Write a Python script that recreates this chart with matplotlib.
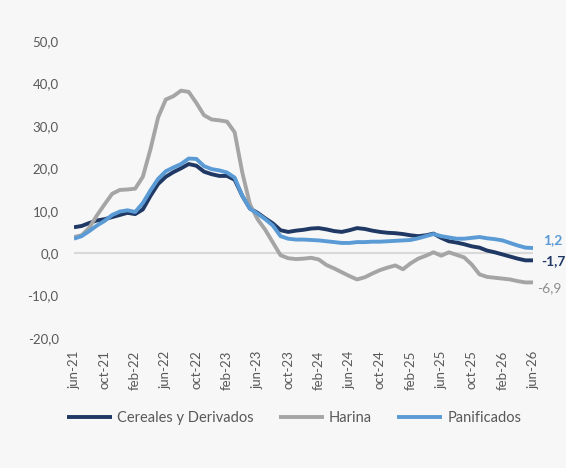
import matplotlib.pyplot as plt
import numpy as np

# meses jun-21 .. jun-26
meses = ["jun-21", "jul-21", "ago-21", "sep-21", "oct-21", "nov-21", "dic-21", "ene-22",
         "feb-22", "mar-22", "abr-22", "may-22", "jun-22", "jul-22", "ago-22", "sep-22",
         "oct-22", "nov-22", "dic-22", "ene-23", "feb-23", "mar-23", "abr-23", "may-23",
         "jun-23", "jul-23", "ago-23", "sep-23", "oct-23", "nov-23", "dic-23", "ene-24",
         "feb-24", "mar-24", "abr-24", "may-24", "jun-24", "jul-24", "ago-24", "sep-24",
         "oct-24", "nov-24", "dic-24", "ene-25", "feb-25", "mar-25", "abr-25", "may-25",
         "jun-25", "jul-25", "ago-25", "sep-25", "oct-25", "nov-25", "dic-25", "ene-26",
         "feb-26", "mar-26", "abr-26", "may-26", "jun-26"]

cereales = [6.1, 6.4, 7.1, 7.7, 8.0, 8.5, 9.0, 9.5, 9.2, 10.3,
            13.5, 16.3, 18.0, 19.1, 20.0, 21.0, 20.6, 19.2, 18.6, 18.2,
            18.2, 17.3, 13.5, 10.5, 9.5, 8.2, 7.0, 5.4, 5.0, 5.3,
            5.5, 5.8, 5.9, 5.6, 5.2, 5.0, 5.4, 5.9, 5.7, 5.3,
            5.0, 4.8, 4.7, 4.5, 4.2, 4.0, 4.2, 4.6, 3.6, 2.8,
            2.5, 2.1, 1.6, 1.3, 0.6, 0.2, -0.3, -0.8, -1.3, -1.7, -1.7]

harina = [3.8, 4.2, 6.0, 8.9, 11.5, 14.0, 14.9, 15.0, 15.2, 18.0,
          24.5, 32.0, 36.2, 37.0, 38.3, 38.0, 35.4, 32.5, 31.5, 31.3,
          31.0, 28.5, 19.0, 11.5, 8.0, 5.5, 2.5, -0.5, -1.2, -1.4,
          -1.3, -1.1, -1.5, -2.8, -3.6, -4.5, -5.4, -6.2, -5.7, -4.8,
          -4.0, -3.4, -2.9, -3.8, -2.4, -1.3, -0.6, 0.2, -0.6, 0.2,
          -0.4, -1.0, -2.7, -5.0, -5.6, -5.8, -6.0, -6.2, -6.6, -6.9, -6.9]

panificados = [3.4, 4.0, 5.2, 6.5, 7.6, 9.0, 9.8, 10.1, 9.7, 11.8,
               14.8, 17.5, 19.3, 20.2, 21.0, 22.3, 22.2, 20.5, 19.8, 19.5,
               19.0, 17.8, 13.5, 10.5, 9.3, 8.0, 6.5, 4.0, 3.4, 3.2,
               3.2, 3.1, 3.0, 2.8, 2.6, 2.4, 2.4, 2.6, 2.6, 2.7,
               2.7, 2.8, 2.9, 3.0, 3.1, 3.5, 4.0, 4.5, 4.0, 3.7,
               3.4, 3.4, 3.6, 3.8, 3.5, 3.3, 3.0, 2.4, 1.8, 1.3, 1.2]

series = [("Cereales y Derivados", cereales, "#1F3864"),
          ("Harina", harina, "#A5A5A5"),
          ("Panificados", panificados, "#5B9BD5")]

plt.rcParams['font.family'] = ['Lato', 'DejaVu Sans']
texto = "#595959"
fondo = "#F7F7F7"

fig = plt.figure(figsize=(5.66, 4.68), dpi=100, facecolor=fondo)
ax = fig.add_axes([0.1307, 0.2778, 0.811, 0.6346], facecolor=fondo)

x = np.arange(len(meses))
ax.axhline(0, color="#D9D9D9", lw=1.5, zorder=1)
for nombre, vals, color in series:
    ax.plot(x, vals, color=color, lw=2.8, label=nombre, zorder=3,
            solid_joinstyle="round", solid_capstyle="butt")

ax.set_xlim(0, len(meses) - 1)
ax.set_ylim(-20, 50)
ax.set_yticks(np.arange(-20, 51, 10))
ax.set_yticklabels([f"{v:.1f}".replace(".", ",") for v in np.arange(-20, 51, 10)])
ax.set_xticks(x[::4])
ax.set_xticklabels(meses[::4], rotation=90)
ax.tick_params(axis="both", length=0, colors=texto, labelsize=9.5)
ax.tick_params(axis="x", pad=9)
ax.tick_params(axis="y", pad=11)
for s in ax.spines.values():
    s.set_visible(False)

# etiquetas de fin de serie
ax.annotate("1,2", (x[-1], panificados[-1]), xytext=(7, 6), textcoords="offset points",
            color="#5B9BD5", fontsize=10, fontweight="bold", va="center")
ax.annotate("-1,7", (x[-1], cereales[-1]), xytext=(6, -0.5), textcoords="offset points",
            color="#1F3864", fontsize=10, fontweight="bold", va="center")
ax.annotate("-6,9", (x[-1], harina[-1]), xytext=(3, -4), textcoords="offset points",
            color="#8C8C8C", fontsize=10, va="center")

ax.legend(loc="center", bbox_to_anchor=(294 / 566, 1 - 418 / 468),
          bbox_transform=fig.transFigure, ncol=3, frameon=False,
          fontsize=10.5, labelcolor=texto, handlelength=3.1, columnspacing=1.7,
          handletextpad=0.35)

fig.savefig("out.png", dpi=100, facecolor=fondo)
